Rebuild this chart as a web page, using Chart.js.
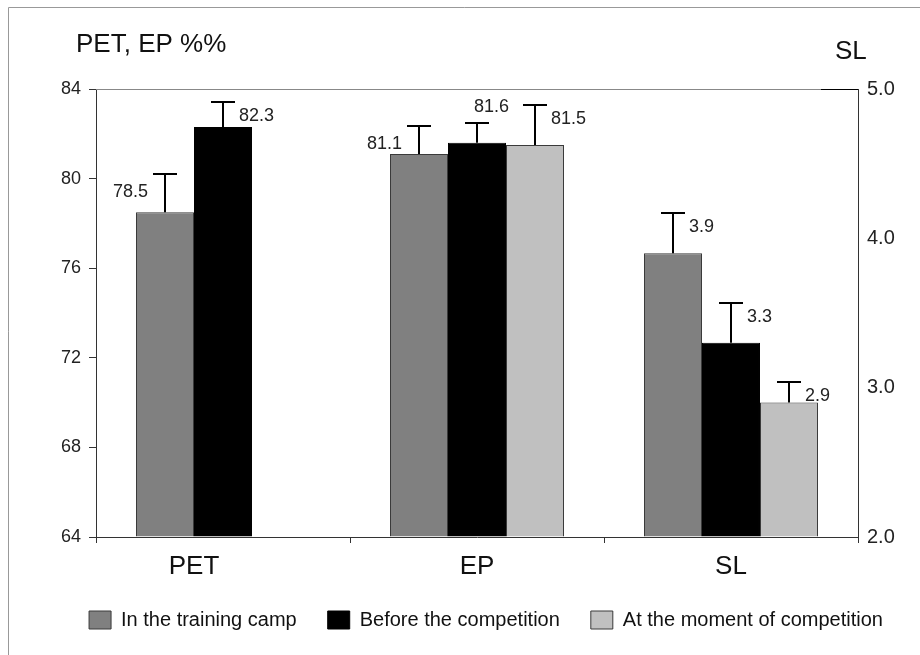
<!DOCTYPE html>
<html>
<head>
<meta charset="utf-8">
<title>PET, EP and SL</title>
<script src="https://cdn.jsdelivr.net/npm/chart.js@4.4.1/dist/chart.umd.min.js"></script>
<style>
  html, body { margin: 0; padding: 0; background: #fff; }
  #wrap { position: relative; width: 920px; height: 655px; }
</style>
</head>
<body>
<div id="wrap"><canvas id="chart"></canvas></div>
<script>
// categories on the x axis
const categories = ['PET', 'EP', 'SL'];
const seriesNames = ['In the training camp', 'Before the competition', 'At the moment of competition'];

// PET and EP are read on the left axis (%), SL on the right axis
const trainingCamp = [78.5, 81.1, 3.9];
const beforeCompetition = [82.3, 81.6, 3.3];
const momentOfCompetition = [null, 81.5, 2.9];

// upper error whiskers, same units as the values
const trainingCampErr = [1.7, 1.25, 0.27];
const beforeCompetitionErr = [1.1, 0.9, 0.27];
const momentOfCompetitionErr = [null, 1.8, 0.14];

// axis ticks
const leftTicks = [64, 68, 72, 76, 80, 84];
const rightTicks = [2.0, 3.0, 4.0, 5.0];

const FONT = '"Liberation Sans", Arial, sans-serif';
Chart.defaults.font.family = FONT;

const seriesValues = [trainingCamp, beforeCompetition, momentOfCompetition];
const seriesErrors = [trainingCampErr, beforeCompetitionErr, momentOfCompetitionErr];
const fills = ['#808080', '#000000', '#c0c0c0'];
const rightCat = categories.indexOf('SL');

// where the value text sits next to the whisker ("right" if not listed)
const labelPlace = { '0-0': 'left', '0-1': 'left', '1-1': 'above' };

const datasets = [];
// left axis datasets first (they feed the legend), then right axis ones
['y', 'y2'].forEach(axis => {
    seriesValues.forEach((vals, s) => {
        datasets.push({
            label: seriesNames[s],
            series: s,
            yAxisID: axis,
            stack: 'g' + s,
            data: vals.map((v, i) => ((i === rightCat) === (axis === 'y2')) ? v : null),
            errors: seriesErrors[s],
            backgroundColor: fills[s],
            borderColor: s === 1 ? '#000' : '#3a3a3a',
            borderWidth: 1,
            base: axis === 'y' ? leftTicks[0] : rightTicks[0],
            barPercentage: 1.0,
            categoryPercentage: 0.685
        });
    });
});

const framePlugin = {
    id: 'frame',
    beforeDraw(chart) {
        const ctx = chart.ctx;
        ctx.save();
        ctx.strokeStyle = '#999';
        ctx.lineWidth = 1;
        ctx.beginPath();
        ctx.moveTo(8.5, 655);
        ctx.lineTo(8.5, 7.5);
        ctx.lineTo(920, 7.5);
        ctx.stroke();
        ctx.restore();
    },
    beforeDatasetsDraw(chart) {
        const ctx = chart.ctx;
        const a = chart.chartArea;
        ctx.save();
        ctx.lineWidth = 1;
        ctx.strokeStyle = '#888';
        ctx.beginPath();
        ctx.moveTo(a.left, a.top + 0.5);
        ctx.lineTo(a.right, a.top + 0.5);
        ctx.stroke();
        ctx.strokeStyle = '#000';
        ctx.beginPath();
        ctx.moveTo(a.right - 37, a.top + 0.5);
        ctx.lineTo(a.right, a.top + 0.5);
        ctx.stroke();
        ctx.restore();
    }
};

const errorBars = {
    id: 'errorBars',
    afterDatasetsDraw(chart) {
        const ctx = chart.ctx;
        ctx.save();
        chart.data.datasets.forEach((ds, di) => {
            const meta = chart.getDatasetMeta(di);
            const scale = chart.scales[ds.yAxisID];
            meta.data.forEach((bar, i) => {
                const v = ds.data[i];
                if (v == null) return;
                const x = Math.round(bar.x);
                const top = Math.round(scale.getPixelForValue(v + ds.errors[i]));
                ctx.strokeStyle = '#000';
                ctx.lineWidth = 2;
                ctx.beginPath();
                ctx.moveTo(x, bar.y);
                ctx.lineTo(x, top);
                ctx.moveTo(x - 12, top);
                ctx.lineTo(x + 12, top);
                ctx.stroke();

                const place = labelPlace[ds.series + '-' + i] || 'right';
                ctx.font = '18px ' + FONT;
                ctx.fillStyle = '#222';
                ctx.textBaseline = 'middle';
                let tx, ty;
                if (place === 'left') {
                    ctx.textAlign = 'right'; tx = x - 17; ty = top + 18;
                } else if (place === 'above') {
                    ctx.textAlign = 'left'; tx = x - 3; ty = top - 16;
                } else {
                    ctx.textAlign = 'left'; tx = x + 16; ty = top + 14;
                }
                ctx.fillText(v.toFixed(1), tx, ty);
            });
        });
        ctx.restore();
    }
};

const textPlugin = {
    id: 'texts',
    afterDraw(chart) {
        const ctx = chart.ctx;
        const a = chart.chartArea;
        ctx.save();
        ctx.fillStyle = '#111';
        ctx.textBaseline = 'middle';

        // axis titles
        ctx.font = '26px ' + FONT;
        ctx.textAlign = 'left';
        ctx.fillText('PET, EP %%', a.left - 20, a.top - 44);
        ctx.fillText('SL', a.right - 23, a.top - 37);

        // category names, centred under the bars that exist
        ctx.font = '26px ' + FONT;
        ctx.textAlign = 'center';
        categories.forEach((c, i) => {
            const xs = [];
            chart.data.datasets.forEach((ds, di) => {
                if (ds.data[i] != null) xs.push(chart.getDatasetMeta(di).data[i].x);
            });
            const cx = xs.reduce((p, q) => p + q, 0) / xs.length;
            ctx.fillText(c, cx, a.bottom + 30);
        });
        ctx.restore();
    }
};

new Chart(document.getElementById('chart'), {
    type: 'bar',
    data: { labels: categories, datasets: datasets },
    options: {
        responsive: true,
        maintainAspectRatio: false,
        animation: false,
        layout: { padding: { top: 89, left: 52, right: 0, bottom: 15 } },
        plugins: {
            tooltip: { enabled: false },
            legend: {
                position: 'bottom',
                labels: {
                    boxWidth: 22,
                    boxHeight: 18,
                    padding: 31,
                    color: '#111',
                    font: { size: 20 },
                    filter: item => item.datasetIndex < 3
                }
            }
        },
        scales: {
            x: {
                offset: true,
                ticks: { display: false },
                grid: { offset: true, drawOnChartArea: false, drawTicks: true, tickLength: 6, color: '#333' },
                border: { display: true, color: '#333', width: 1 },
                afterFit(s) { s.height = 42; }
            },
            y: {
                position: 'left',
                stacked: false,
                min: leftTicks[0],
                max: leftTicks[leftTicks.length - 1],
                ticks: { stepSize: leftTicks[1] - leftTicks[0], color: '#222', font: { size: 18 }, padding: 8 },
                grid: { drawOnChartArea: false, tickLength: 7, color: '#333' },
                border: { display: true, color: '#333', width: 1 },
                afterFit(s) { s.width = 44; }
            },
            y2: {
                position: 'right',
                stacked: false,
                min: rightTicks[0],
                max: rightTicks[rightTicks.length - 1],
                ticks: {
                    stepSize: rightTicks[1] - rightTicks[0],
                    color: '#222',
                    font: { size: 20 },
                    padding: 9,
                    callback: v => v.toFixed(1)
                },
                grid: { drawOnChartArea: false, drawTicks: false },
                border: { display: true, color: '#333', width: 1 },
                afterFit(s) { s.width = 62; }
            }
        }
    },
    plugins: [framePlugin, errorBars, textPlugin]
});
</script>
</body>
</html>
